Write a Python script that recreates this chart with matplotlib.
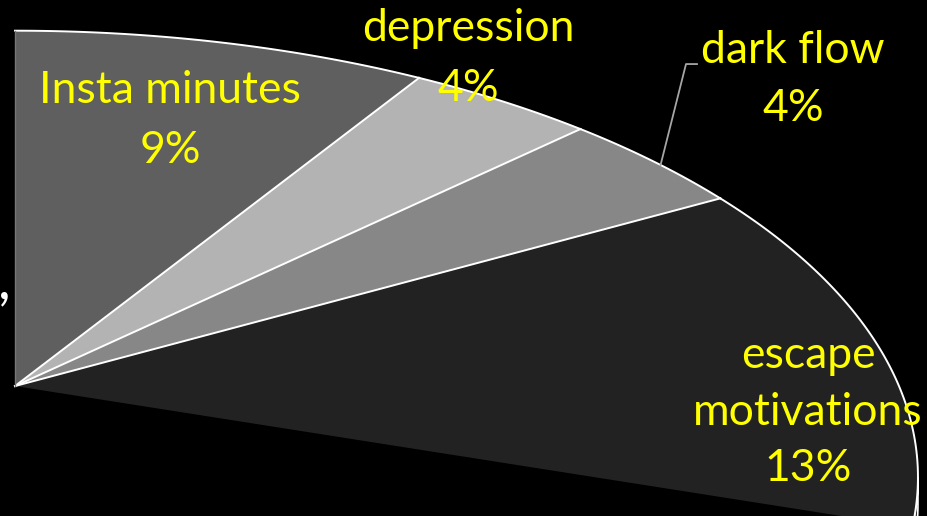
import numpy as np
import matplotlib
matplotlib.use("Agg")
from matplotlib import pyplot as plt
from matplotlib.patches import Polygon

# slice data (only the visible part of the pie)
labels = ["Insta minutes", "depression", "dark flow", "escape\nmotivations"]
values = [9, 4, 4, 13]
colors = ["#5f5f5f", "#b3b3b3", "#878787", "#222222"]

# tilted pie with perspective
k = 0.484      # vertical squash
s = 0.204      # perspective strength
thick = 0.03   # side wall height


def proj(t, drop=0.0):
    d = 1 + s*np.sin(t)
    return np.cos(t)/d, k*np.sin(t)/d - drop


fig = plt.figure(figsize=(9.27, 5.16), dpi=100)
fig.patch.set_facecolor("black")
ax = fig.add_axes([0, 0, 1, 1])
ax.set_facecolor("black")
ax.set_xlim(-0.017, 1.0317)
ax.set_ylim(-0.147, 0.4367)
ax.set_aspect("equal")
ax.axis("off")

yellow = "#ffff00"
font = "Lato"

start = np.pi/2
edges = [start]
for v in values:
    edges.append(edges[-1] - v/100*2*np.pi)

# side wall where the rim faces the viewer
tw = np.linspace(np.arcsin(-s), edges[-1], 30)
wx, wy = proj(tw)
bx, by = proj(tw[::-1], thick)
ax.add_patch(Polygon(np.column_stack([np.r_[wx, bx], np.r_[wy, by]]),
                     closed=True, fc="#1a1a1a", ec="white", lw=1.2, zorder=1))

for i, v in enumerate(values):
    t = np.linspace(edges[i], edges[i+1], 120)
    rx, ry = proj(t)
    ax.add_patch(Polygon(np.column_stack([np.r_[0, rx], np.r_[0, ry]]),
                         closed=True, fc=colors[i], ec="none", zorder=2))
    ax.plot(rx, ry, color="white", lw=1.4, zorder=3)

# white dividers between slices
for e in edges[1:-1]:
    ex, ey = proj(e)
    ax.plot([0, ex], [0, ey], color="white", lw=1.4, zorder=3)
# faint outer radii
ex, ey = proj(edges[0])
ax.plot([0, ex], [0, ey], color="#777777", lw=1.0, zorder=3)


def px(x, y):
    # pixel position -> data coordinates
    return (x - 15)/884, (386 - y)/884


fs = 32
pos = [(170, 90, 150), (468, 28, 88), (793, 50, 108), (808, 383, 468)]
for i, (lab, v) in enumerate(zip(labels, values)):
    cx, ly, py = pos[i]
    x0, y0 = px(cx, ly)
    if "\n" in lab:
        a, b = lab.split("\n")
        ax.text(*px(cx, 355), a, color=yellow, fontsize=fs, family=font,
                ha="center", va="center", zorder=5)
        ax.text(*px(cx, 412), b, color=yellow, fontsize=fs, family=font,
                ha="center", va="center", zorder=5)
    else:
        ax.text(x0, y0, lab, color=yellow, fontsize=fs, family=font,
                ha="center", va="center", zorder=5)
    ax.text(*px(cx, py), "{}%".format(v), color=yellow, fontsize=fs, family=font,
            ha="center", va="center", zorder=5)

# leader line for dark flow
lx, ly = proj(edges[2] - 0.55*(edges[2]-edges[3]))
ax.plot([lx, px(686, 64)[0], px(697, 64)[0]],
        [ly, px(686, 64)[1], px(697, 64)[1]], color="#a6a6a6", lw=1.3, zorder=4)

# cut-off label fragment at the left edge
ax.text(*px(4, 283), ",", color="white", fontsize=40, family=font,
        ha="center", va="center", zorder=5)

plt.savefig("out.png", dpi=100, facecolor="black")
